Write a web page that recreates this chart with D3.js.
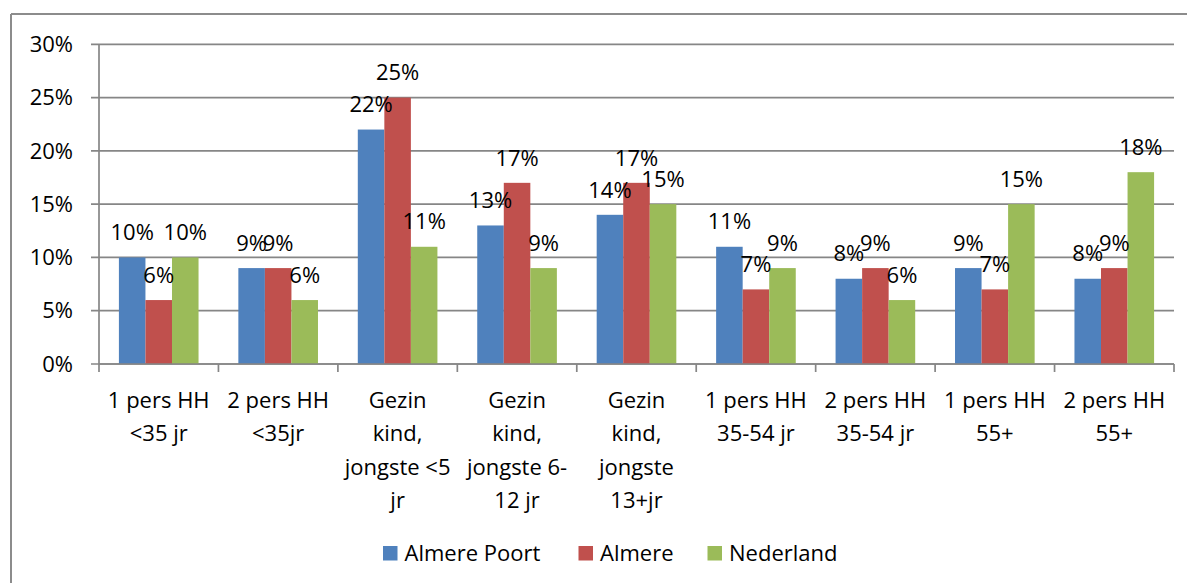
<!DOCTYPE html>
<html>
<head>
<meta charset="utf-8">
<script src="https://cdnjs.cloudflare.com/ajax/libs/d3/7.8.5/d3.min.js"></script>
<style>
  body { margin: 0; background: #fff; }
  text { font-family: "Open Sans", sans-serif; font-size: 22px; fill: #000; }
</style>
</head>
<body>
<div id="chart"></div>
<script>
// categorieen (regels van het aslabel)
var categories = [
  ["1 pers HH", "<35 jr"],
  ["2 pers HH", "<35jr"],
  ["Gezin", "kind,", "jongste <5", "jr"],
  ["Gezin", "kind,", "jongste 6-", "12 jr"],
  ["Gezin", "kind,", "jongste", "13+jr"],
  ["1 pers HH", "35-54 jr"],
  ["2 pers HH", "35-54 jr"],
  ["1 pers HH", "55+"],
  ["2 pers HH", "55+"]
]
var seriesNames = ["Almere Poort", "Almere", "Nederland"]
var almerePoort = [10, 9, 22, 13, 14, 11, 8, 9, 8]
var almere = [6, 9, 25, 17, 17, 7, 9, 7, 9]
var nederland = [10, 6, 11, 9, 15, 9, 6, 15, 18]
var yTicks = [0, 5, 10, 15, 20, 25, 30]
var colors = ["#4F81BD", "#C0504D", "#9BBB59"]

var seriesValues = [almerePoort, almere, nederland]

var width = 1187, height = 583
var svg = d3.select("#chart").append("svg")
  .attr("width", width)
  .attr("height", height)

// rand van het grafiekvlak (alleen links en boven zichtbaar)
svg.append("line").attr("x1", 11).attr("x2", 11).attr("y1", 14).attr("y2", height)
  .attr("stroke", "#8c8c8c").attr("stroke-width", 2)
svg.append("line").attr("x1", 11).attr("x2", width).attr("y1", 14).attr("y2", 14)
  .attr("stroke", "#8c8c8c").attr("stroke-width", 2)

var x = d3.scaleBand()
  .domain(d3.range(categories.length))
  .range([99, 1174])

var y = d3.scaleLinear().domain([0, 30]).range([364, 44.3])

var barW = x.bandwidth() / 4.5
var xs = d3.scaleBand()
  .domain(d3.range(seriesNames.length))
  .range([0.75 * barW, 3.75 * barW])

// gridlijnen + y-as labels
var yAxis = svg.append("g")
yAxis.selectAll(".grid")
  .data(yTicks)
  .enter().append("line")
  .attr("x1", 91).attr("x2", 1174)
  .attr("y1", function(d) { return y(d) })
  .attr("y2", function(d) { return y(d) })
  .attr("stroke", "#868686")
  .attr("stroke-width", 1.7)

yAxis.selectAll(".ylab")
  .data(yTicks)
  .enter().append("text")
  .attr("x", 73)
  .attr("y", function(d) { return y(d) })
  .attr("dy", "0.35em")
  .attr("text-anchor", "end")
  .text(function(d) { return d + "%" })

// verticale as
svg.append("line").attr("x1", 99).attr("x2", 99).attr("y1", 44.3).attr("y2", 364)
  .attr("stroke", "#868686").attr("stroke-width", 1.7)

// staven
seriesValues.forEach(function(vals, s) {
  svg.append("g").selectAll("rect")
    .data(vals)
    .enter().append("rect")
    .attr("x", function(d, i) { return x(i) + xs(s) })
    .attr("y", function(d) { return y(d) })
    .attr("width", xs.bandwidth())
    .attr("height", function(d) { return y(0) - y(d) })
    .attr("fill", colors[s])
})

// x-as met streepjes
svg.append("line").attr("x1", 99).attr("x2", 1174).attr("y1", 364).attr("y2", 364)
  .attr("stroke", "#868686").attr("stroke-width", 1.7)
svg.append("g").selectAll("line")
  .data(d3.range(categories.length + 1))
  .enter().append("line")
  .attr("x1", function(i) { return 99 + i * x.step() })
  .attr("x2", function(i) { return 99 + i * x.step() })
  .attr("y1", 364).attr("y2", 372)
  .attr("stroke", "#868686").attr("stroke-width", 1.7)

// datalabels
seriesValues.forEach(function(vals, s) {
  svg.append("g").selectAll("text")
    .data(vals)
    .enter().append("text")
    .attr("x", function(d, i) { return x(i) + xs(s) + xs.bandwidth() / 2 })
    .attr("y", function(d) { return y(d) - 25 })
    .attr("dy", "0.35em")
    .attr("text-anchor", "middle")
    .text(function(d) { return d + "%" })
})

// categorielabels
var catG = svg.append("g").selectAll("text")
  .data(categories)
  .enter().append("text")
  .attr("text-anchor", "middle")
catG.each(function(lines, i) {
  var t = d3.select(this)
  lines.forEach(function(l, j) {
    t.append("tspan")
      .attr("x", x(i) + x.bandwidth() / 2)
      .attr("y", 400 + j * 33.4)
      .attr("dy", "0.35em")
      .text(l)
  })
})

// legenda
var legendX = [383, 578.5, 707.5]
var legend = svg.append("g").selectAll("g")
  .data(seriesNames)
  .enter().append("g")
  .attr("transform", function(d, i) { return "translate(" + legendX[i] + ",546)" })
legend.append("rect")
  .attr("width", 14.5).attr("height", 14.5)
  .attr("fill", function(d, i) { return colors[i] })
legend.append("text")
  .attr("x", 21.5)
  .attr("y", 7.5)
  .attr("dy", "0.35em")
  .text(function(d) { return d })
</script>
</body>
</html>
